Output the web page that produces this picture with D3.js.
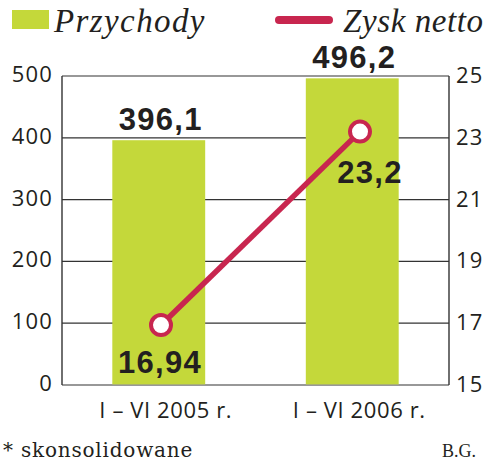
<!DOCTYPE html>
<html><head><meta charset="utf-8">
<script src="https://cdn.jsdelivr.net/npm/d3@7"></script>
<style>
html,body{margin:0;padding:0;background:#fff;}
svg{display:block;}
</style></head>
<body>
<svg id="c" width="500" height="464"></svg>
<script>
const categories = ["I – VI 2005 r.", "I – VI 2006 r."];
const przychody = [396.1, 496.2];
const zysk = [16.94, 23.2];
const przychodyLabels = ["396,1", "496,2"];
const zyskLabels = ["16,94", "23,2"];
const leftTicks = [0, 100, 200, 300, 400, 500];
const rightTicks = [15, 17, 19, 21, 23, 25];
const legendNames = ["Przychody", "Zysk netto"];
const footnote = "* skonsolidowane";
const source = "B.G.";

const GREEN = "#c4d83a", RED = "#c8264f", INK = "#231f20", AX = "#333";
const svg = d3.select("#c");
const L = 62, R = 449, T = 76, B = 385;

const x = d3.scaleBand().domain(categories).range([L, R]).paddingInner(0.52).paddingOuter(0.26);
const xl = d3.scalePoint().domain(categories).range([L + 99, L + 298]);
const yL = d3.scaleLinear().domain([0, 500]).range([B, T]);
const yR = d3.scaleLinear().domain([15, 25]).range([B, T]);

// gridlines
const gAx = svg.append("g");
gAx.selectAll("line.g").data(leftTicks).join("line")
  .attr("x1", L).attr("x2", R)
  .attr("y1", d => yL(d)).attr("y2", d => yL(d))
  .attr("stroke", AX).attr("stroke-width", 1.2);
gAx.append("line").attr("x1", L).attr("x2", L).attr("y1", T).attr("y2", B).attr("stroke", AX).attr("stroke-width", 1.4);
gAx.append("line").attr("x1", R).attr("x2", R).attr("y1", T).attr("y2", B).attr("stroke", AX).attr("stroke-width", 1.4);

// bars
svg.append("g").selectAll("rect").data(przychody).join("rect")
  .attr("x", (d, i) => x(categories[i]))
  .attr("width", x.bandwidth())
  .attr("y", d => yL(d))
  .attr("height", d => B - 0.6 - yL(d))
  .attr("fill", GREEN);

// tick labels
const tickFont = "'Open Sans', 'DejaVu Sans', sans-serif";
svg.append("g").selectAll("text").data(leftTicks).join("text")
  .attr("x", 53).attr("y", d => yL(d) + 6)
  .attr("text-anchor", "end")
  .attr("font-family", tickFont).attr("font-size", 22).attr("font-weight", 400)
  .attr("letter-spacing", 1.2)
  .attr("fill", INK).text(d => d);
svg.append("g").selectAll("text").data(rightTicks).join("text")
  .attr("x", 456).attr("y", d => yR(d) + 7)
  .attr("text-anchor", "start")
  .attr("font-family", tickFont).attr("font-size", 22).attr("font-weight", 400)
  .attr("letter-spacing", 1.2)
  .attr("fill", INK).text(d => d);

// x labels
svg.append("g").selectAll("text").data(categories).join("text")
  .attr("x", d => x(d) + x.bandwidth() / 2 + 7)
  .attr("y", 418)
  .attr("text-anchor", "middle")
  .attr("font-family", tickFont).attr("font-size", 22)
  .attr("letter-spacing", 0.6)
  .attr("fill", INK).text(d => d);

// bar value labels
const boldFont = "'Liberation Sans', Arial, sans-serif";
svg.append("g").selectAll("text").data(przychody).join("text")
  .attr("x", (d, i) => x(categories[i]) + x.bandwidth() / 2 + 2)
  .attr("y", d => yL(d) - 10)
  .attr("text-anchor", "middle")
  .attr("font-family", boldFont).attr("font-weight", 700).attr("font-size", 31)
  .attr("letter-spacing", 1.3)
  .attr("fill", INK).text((d, i) => przychodyLabels[i]);

// line
const line = d3.line().x((d, i) => xl(categories[i])).y(d => yR(d));
svg.append("path").datum(zysk).attr("d", line)
  .attr("fill", "none").attr("stroke", RED).attr("stroke-width", 5.5);
svg.append("g").selectAll("circle").data(zysk).join("circle")
  .attr("cx", (d, i) => xl(categories[i])).attr("cy", d => yR(d))
  .attr("r", 10).attr("fill", "#fff").attr("stroke", RED).attr("stroke-width", 4);

// line value labels
svg.append("g").selectAll("text").data(zysk).join("text")
  .attr("x", (d, i) => xl(categories[i]) + (i === 0 ? -1 : 10))
  .attr("y", d => yR(d) + (d < 20 ? 48 : 51))
  .attr("text-anchor", "middle")
  .attr("font-family", boldFont).attr("font-weight", 700).attr("font-size", 31)
  .attr("letter-spacing", 1.3)
  .attr("fill", INK).text((d, i) => zyskLabels[i]);

// legend
const lg = svg.append("g");
lg.append("rect").attr("x", 12).attr("y", 10).attr("width", 37).attr("height", 19).attr("fill", GREEN);
lg.append("text").attr("x", 54).attr("y", 32)
  .attr("font-family", "'Liberation Serif', 'Times New Roman', serif").attr("font-style", "italic")
  .attr("font-size", 33).attr("letter-spacing", 1.4).attr("fill", INK).text(legendNames[0]);
lg.append("line").attr("x1", 279).attr("x2", 329).attr("y1", 20).attr("y2", 20)
  .attr("stroke", RED).attr("stroke-width", 8).attr("stroke-linecap", "round");
lg.append("text").attr("x", 343).attr("y", 32)
  .attr("font-family", "'Liberation Serif', 'Times New Roman', serif").attr("font-style", "italic")
  .attr("font-size", 33).attr("letter-spacing", 0.6).attr("fill", INK).text(legendNames[1]);

// footer
svg.append("text").attr("x", 3).attr("y", 457)
  .attr("font-family", "'DejaVu Serif', serif").attr("font-size", 20)
  .attr("letter-spacing", 0.8)
  .attr("fill", INK).text(footnote);
svg.append("text").attr("x", 442).attr("y", 457)
  .attr("font-family", "'Liberation Serif', serif").attr("font-size", 18)
  .attr("fill", INK).text(source);
</script>
</body></html>
